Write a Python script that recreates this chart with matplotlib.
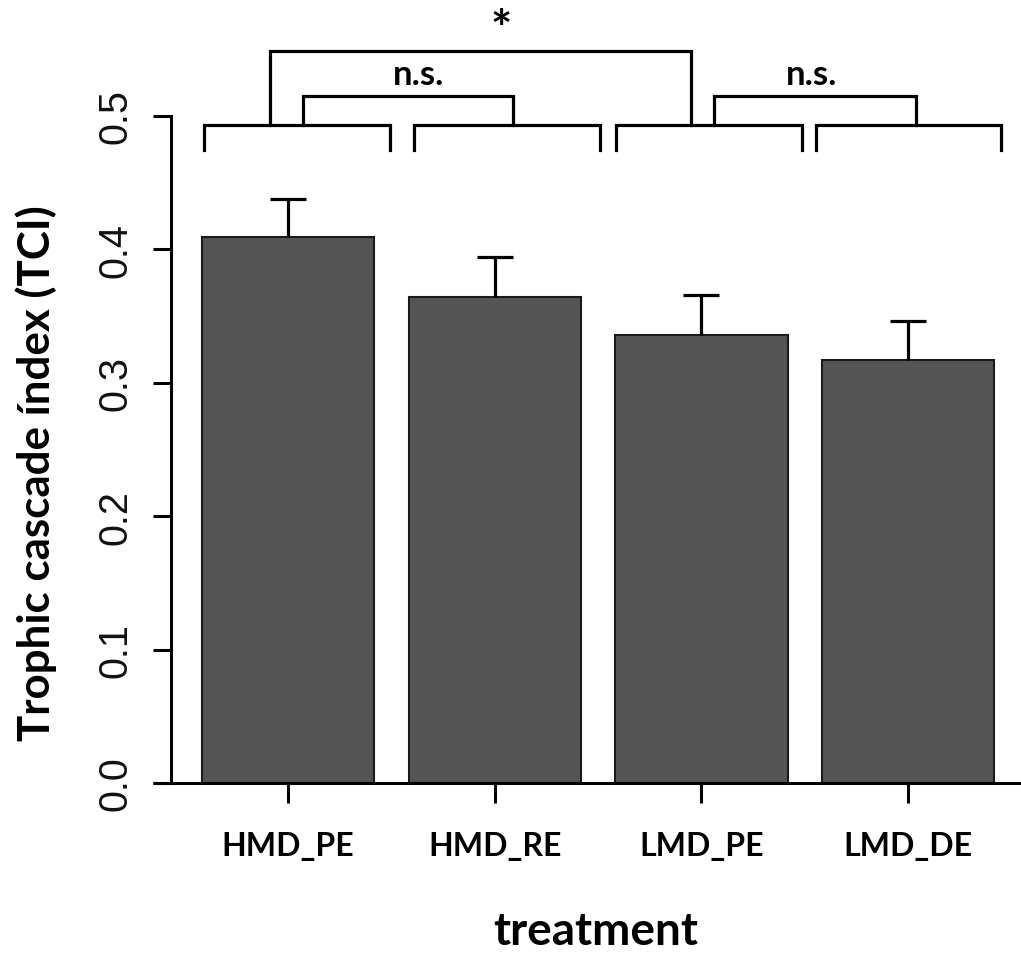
import matplotlib
matplotlib.use("Agg")
import matplotlib.pyplot as plt
import numpy as np

# ---- data ----
categories = ["HMD_PE", "HMD_RE", "LMD_PE", "LMD_DE"]
means = [0.409, 0.364, 0.336, 0.317]
errors = [0.029, 0.030, 0.030, 0.029]
yticks = [0.0, 0.1, 0.2, 0.3, 0.4, 0.5]
ytick_labels = ["0.0", "0.1", "0.2", "0.3", "0.4", "0.5"]
xlabel = "treatment"
ylabel = "Trophic cascade índex (TCI)"

# significance brackets (data coords)
base_brackets = [(-0.406, 0.494), (0.61, 1.51), (1.587, 2.487), (2.554, 3.45)]
base_y, base_leg = 0.493, 0.4745
upper_brackets = [(0.073, 1.089, 0.515, 0.493),
                  (2.061, 3.038, 0.515, 0.493),
                  (-0.087, 1.95, 0.549, 0.493)]
sig_labels = ["n.s.", "n.s.", "*"]
sig_label_x = [0.634, 2.535, 1.03]
sig_label_y = [0.524, 0.524, 0.553]
sig_label_size = [25, 25, 36]

fig = plt.figure(figsize=(10.21, 9.54), dpi=100)
W, H = 1021, 954
ax = fig.add_axes([171 / W, (H - 784) / H, (W - 171) / W, (784 - 117) / H])

x = np.arange(len(categories))
m = np.array(means)
e = np.array(errors)
ax.bar(x, m, width=0.833, color="#555555", edgecolor="#1a1a1a", linewidth=1.5, zorder=2)
# upper-only error bars with a single cap
ax.vlines(x, m, m + e, colors="black", linewidth=2.3, zorder=3)
ax.hlines(m + e, x - 0.087, x + 0.087, colors="black", linewidth=2.3, zorder=3)

ax.set_xlim(-0.566, 3.546)
ax.set_ylim(0, 0.5)

for s in ["top", "right", "bottom"]:
    ax.spines[s].set_visible(False)
ax.spines["left"].set_linewidth(2.2)
ax.spines["left"].set_bounds(0, 0.5)

# bottom line extending left of the y axis to the right edge
ax.plot([-0.653, 3.546], [0, 0], color="black", lw=2.2, clip_on=False,
        solid_capstyle="butt", zorder=4)

ax.set_yticks(yticks)
ax.set_yticklabels(ytick_labels, family="Liberation Sans", fontsize=28.5,
                   rotation=90, va="center", color="#111111")
ax.tick_params(axis="y", length=13, width=2.2, pad=13)

ax.set_xticks(x)
ax.set_xticklabels(categories, family="Lato", fontweight="bold", fontsize=23)
ax.tick_params(axis="x", length=14.5, width=2.2, pad=20)

ax.set_xlabel(xlabel, family="Lato", fontweight="bold", fontsize=33, labelpad=36)
ax.set_ylabel(ylabel, family="Lato", fontweight="bold", fontsize=31.6)
ax.yaxis.set_label_coords(-0.134, 0.466)

lw = 2.3
for (l, r) in base_brackets:
    ax.plot([l, l, r, r], [base_leg, base_y, base_y, base_leg], color="black",
            lw=lw, clip_on=False, solid_joinstyle="miter")
for (l, r, top, bot) in upper_brackets:
    ax.plot([l, l, r, r], [bot, top, top, bot], color="black", lw=lw,
            clip_on=False, solid_joinstyle="miter")

for txt, tx, ty, fs in zip(sig_labels, sig_label_x, sig_label_y, sig_label_size):
    ax.text(tx, ty, txt, family="Lato", fontweight="bold", fontsize=fs,
            ha="center", va="baseline")

fig.savefig("out.png", dpi=100)
